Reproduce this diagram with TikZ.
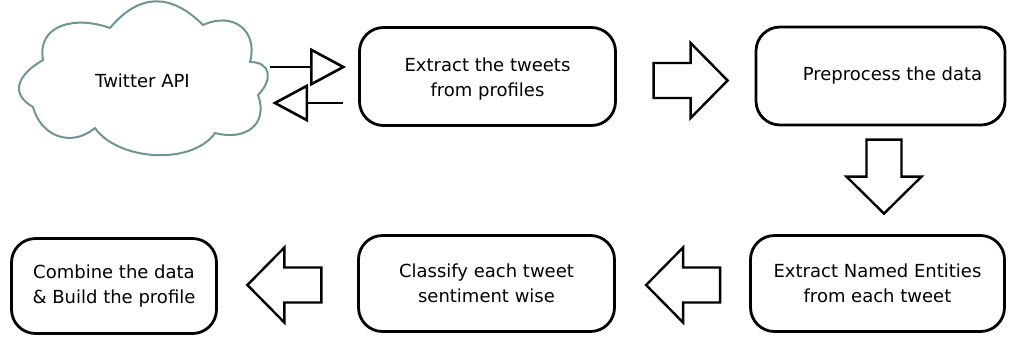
\documentclass[tikz,border=0pt]{standalone}
\usepackage{fontspec}
\setmainfont{DejaVu Sans}
\usetikzlibrary{arrows.meta,calc}
\definecolor{cloudc}{RGB}{110,148,150}
\tikzset{
  every node/.style={font=\fontsize{18}{25}\selectfont, align=center, text=black},
  procbox/.style={draw, line width=2.8pt, rounded corners=24pt, inner sep=0pt},
  thinarrow/.style={line width=2.6pt, -{Triangle[open, length=36pt, width=38pt, line width=2.6pt]}},
  pics/barrow/.style={code={
    \draw[line width=2.4pt, fill=white, line join=miter]
      (-74pt,17.5pt) -- (-37pt,17.5pt) -- (-37pt,37.5pt) -- (0pt,0pt)
      -- (-37pt,-37.5pt) -- (-37pt,-17.5pt) -- (-74pt,-17.5pt) -- cycle;
  }}
}
\begin{document}
\begin{tikzpicture}[x=1pt,y=1pt]
\useasboundingbox (0,0) rectangle (1009,-338);

% cloud
\node[minimum width=251pt, minimum height=145pt, inner sep=0pt] (api) at (142.5,-80.5) {\raisebox{-3pt}{Twitter API}};
\draw[cloudc, line width=2pt]
  (110,-28) to[out=50,in=135,looseness=1.25] (203,-25)
  to[out=25,in=75,looseness=1.4] (250,-62)
  to[out=0,in=45,looseness=1.6] (258,-95)
  to[out=-70,in=-15,looseness=1.4] (215,-133)
  to[out=-125,in=-55,looseness=0.85] (95,-128)
  to[out=-140,in=-75,looseness=1.2] (33,-107)
  to[out=150,in=-150,looseness=1.5] (43,-60)
  to[out=100,in=160,looseness=1.25] (110,-28);

% boxes
\node[procbox, minimum width=256pt, minimum height=98pt] (extract) at (487.5,-76.5) {\rule{0pt}{19pt}Extract the tweets\\from profiles};
\node[procbox, minimum width=249pt, minimum height=98pt] (prep) at (880.5,-76) {\hspace*{24pt}Preprocess the data};
\node[procbox, minimum width=254pt, minimum height=96pt] (ner) at (877.5,-283.5) {Extract Named Entities\\from each tweet};
\node[procbox, minimum width=256pt, minimum height=96pt] (classify) at (486.5,-283.5) {Classify each tweet\\sentiment wise};
\node[procbox, minimum width=205pt, minimum height=95pt] (combine) at (114,-286) {Combine the data\\\& Build the profile};

% thin arrows between cloud and extract box
\draw[thinarrow] ($(api.east)+(2,13.5)$) -- ($(extract.west)+(-12,9.5)$);
\draw[thinarrow] ($(extract.west)+(-15,-26.5)$) -- ($(api.east)+(4,-22.5)$);

% block arrows
\pic at ($(prep.west)+(-27,-4.5)$) {barrow};
\pic[rotate=-90] at ($(ner.north)+(6.5,20.5)$) {barrow};
\pic[rotate=180] at ($(ner.west)+(-103,-1.5)$) {barrow};
\pic[rotate=180] at ($(combine.east)+(29.5,1)$) {barrow};
\end{tikzpicture}
\end{document}
